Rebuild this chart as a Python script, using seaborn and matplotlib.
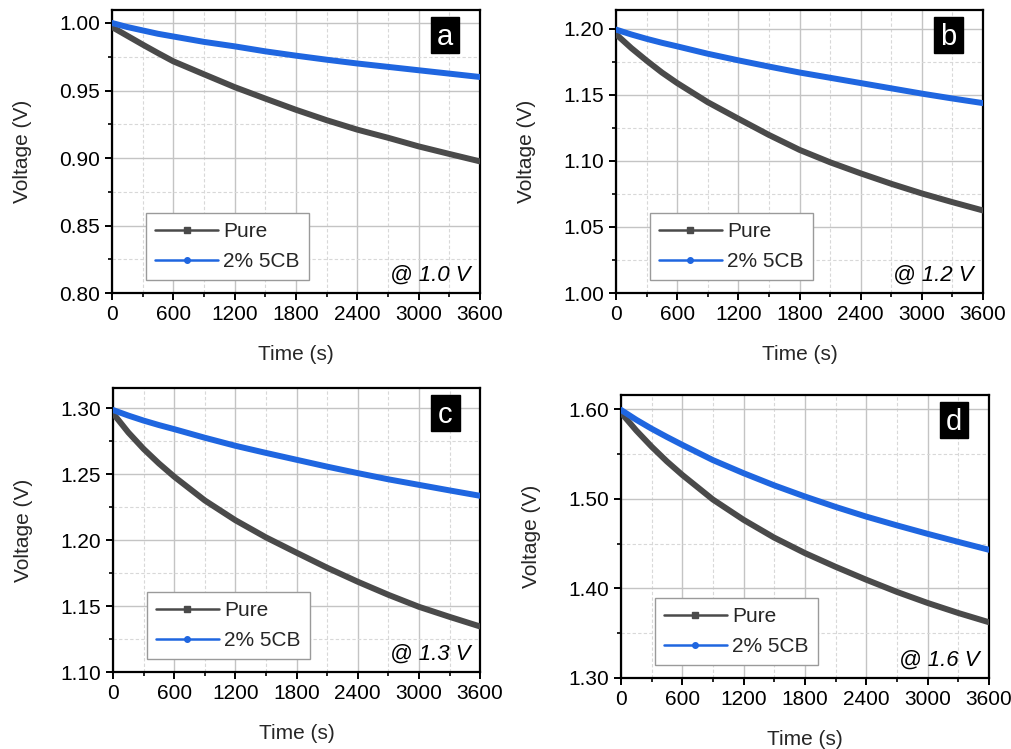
import numpy as np
import pandas as pd
import matplotlib
matplotlib.use("Agg")
import matplotlib.pyplot as plt
import seaborn as sns
from matplotlib.lines import Line2D
from matplotlib.patches import Rectangle
from matplotlib.ticker import MultipleLocator, FormatStrFormatter

time_s = [0, 150, 300, 450, 600, 900, 1200, 1500, 1800, 2100, 2400, 2700, 3000, 3300, 3600]

a_pure = [0.997, 0.9905, 0.984, 0.9777, 0.9716, 0.962, 0.9525, 0.944, 0.9357, 0.928, 0.921, 0.915, 0.9086, 0.903, 0.8975]
a_5cb = [1.000, 0.997, 0.9945, 0.992, 0.990, 0.986, 0.9827, 0.979, 0.9758, 0.9728, 0.970, 0.9675, 0.965, 0.9625, 0.960]

b_pure = [1.196, 1.1855, 1.176, 1.167, 1.159, 1.1445, 1.132, 1.1197, 1.1084, 1.099, 1.0906, 1.0827, 1.0754, 1.0688, 1.0625]
b_5cb = [1.1995, 1.1958, 1.1925, 1.1895, 1.1868, 1.1812, 1.1762, 1.1715, 1.167, 1.163, 1.159, 1.155, 1.151, 1.1473, 1.1438]

c_pure = [1.296, 1.2815, 1.269, 1.258, 1.248, 1.230, 1.215, 1.202, 1.1904, 1.179, 1.1684, 1.1585, 1.1494, 1.1418, 1.1345]
c_5cb = [1.2985, 1.2943, 1.2905, 1.2871, 1.284, 1.2775, 1.2714, 1.266, 1.2608, 1.2556, 1.2507, 1.246, 1.2418, 1.2376, 1.2335]

d_pure = [1.596, 1.576, 1.558, 1.5415, 1.5265, 1.499, 1.4764, 1.4565, 1.4393, 1.424, 1.4096, 1.396, 1.3837, 1.3725, 1.3622]
d_5cb = [1.599, 1.588, 1.578, 1.5688, 1.560, 1.543, 1.5284, 1.5148, 1.5024, 1.4908, 1.480, 1.4702, 1.4608, 1.4518, 1.443]

series_names = ["Pure", "2% 5CB"]
panel_letters = ["a", "b", "c", "d"]
voltage_labels = ["@ 1.0 V", "@ 1.2 V", "@ 1.3 V", "@ 1.6 V"]
x_ticks = [0, 600, 1200, 1800, 2400, 3000, 3600]

sns.set_theme(style="ticks")
plt.rcParams["font.family"] = ["Liberation Sans", "DejaVu Sans"]

colors = {"Pure": "#4a4a4a", "2% 5CB": "#1f66e0"}

fig = plt.figure(figsize=(10.12, 7.49), dpi=100)

panels = [
    dict(data=(a_pure, a_5cb), pos=[0.1107, 0.6088, 0.3636, 0.3778], ylim=(0.80, 1.0096), major=0.05, minor=0.025),
    dict(data=(b_pure, b_5cb), pos=[0.6087, 0.6088, 0.3627, 0.3778], ylim=(1.00, 1.2143), major=0.05, minor=0.025),
    dict(data=(c_pure, c_5cb), pos=[0.1117, 0.1028, 0.3627, 0.3792], ylim=(1.10, 1.3152), major=0.05, minor=0.025),
    dict(data=(d_pure, d_5cb), pos=[0.6136, 0.0948, 0.3636, 0.3778], ylim=(1.30, 1.6156), major=0.10, minor=0.05),
]

FS = 15

for i, p in enumerate(panels):
    ax = fig.add_axes(p["pos"])
    df = pd.DataFrame({
        "Time (s)": time_s * 2,
        "Voltage (V)": list(p["data"][0]) + list(p["data"][1]),
        "Sample": [series_names[0]] * len(time_s) + [series_names[1]] * len(time_s),
    })
    sns.lineplot(data=df, x="Time (s)", y="Voltage (V)", hue="Sample", palette=colors,
                 linewidth=4.3, ax=ax, legend=False, zorder=3)
    ax.set_xlim(0, 3600)
    ax.set_ylim(*p["ylim"])
    ax.set_xticks(x_ticks)
    ax.xaxis.set_minor_locator(MultipleLocator(300))
    ax.yaxis.set_major_locator(MultipleLocator(p["major"]))
    ax.yaxis.set_minor_locator(MultipleLocator(p["minor"]))
    ax.yaxis.set_major_formatter(FormatStrFormatter("%.2f"))
    ax.grid(which="major", color="#c4c4c4", linestyle="-", linewidth=1.0, zorder=0)
    ax.grid(which="minor", color="#d8d8d8", linestyle=(0, (3, 2)), linewidth=0.8, zorder=0)
    ax.set_axisbelow(True)
    for s in ax.spines.values():
        s.set_visible(True)
        s.set_color("black")
        s.set_linewidth(1.6)
    ax.tick_params(which="major", direction="out", length=5, width=1.4, labelsize=FS,
                   colors="black", pad=3.5)
    ax.tick_params(which="minor", direction="out", length=3, width=1.2, colors="black")
    ax.set_xlabel("Time (s)", fontsize=FS, labelpad=15)
    ax.set_ylabel("Voltage (V)", fontsize=FS, labelpad=20)

    handles = [
        Line2D([0], [0], color=colors["Pure"], lw=1.8, marker="s", markersize=4),
        Line2D([0], [0], color=colors["2% 5CB"], lw=1.8, marker="o", markersize=4),
    ]
    leg = ax.legend(handles, series_names, loc="lower left", bbox_to_anchor=(0.092, 0.045),
                    fontsize=15, frameon=True, fancybox=False, handlelength=3.0,
                    handletextpad=0.25, borderpad=0.45, labelspacing=0.5, borderaxespad=0)
    leg.get_frame().set_edgecolor("#9a9a9a")
    leg.get_frame().set_linewidth(1.0)
    leg.get_frame().set_facecolor("white")
    leg.get_frame().set_alpha(1)
    leg.set_zorder(5)

    bw, bh = 0.078, 0.127
    cx, cy = 0.905, 0.912
    ax.add_patch(Rectangle((cx - bw / 2, cy - bh / 2), bw, bh, transform=ax.transAxes,
                           facecolor="black", edgecolor="black", zorder=6, clip_on=False))
    ax.text(cx, cy - 0.008, panel_letters[i], transform=ax.transAxes, ha="center", va="center",
            color="white", fontsize=21, zorder=7)
    ax.text(0.975, 0.045, voltage_labels[i], transform=ax.transAxes, ha="right", va="baseline",
            fontsize=16, style="italic", color="black", zorder=6)

fig.savefig("out.png", dpi=100)
